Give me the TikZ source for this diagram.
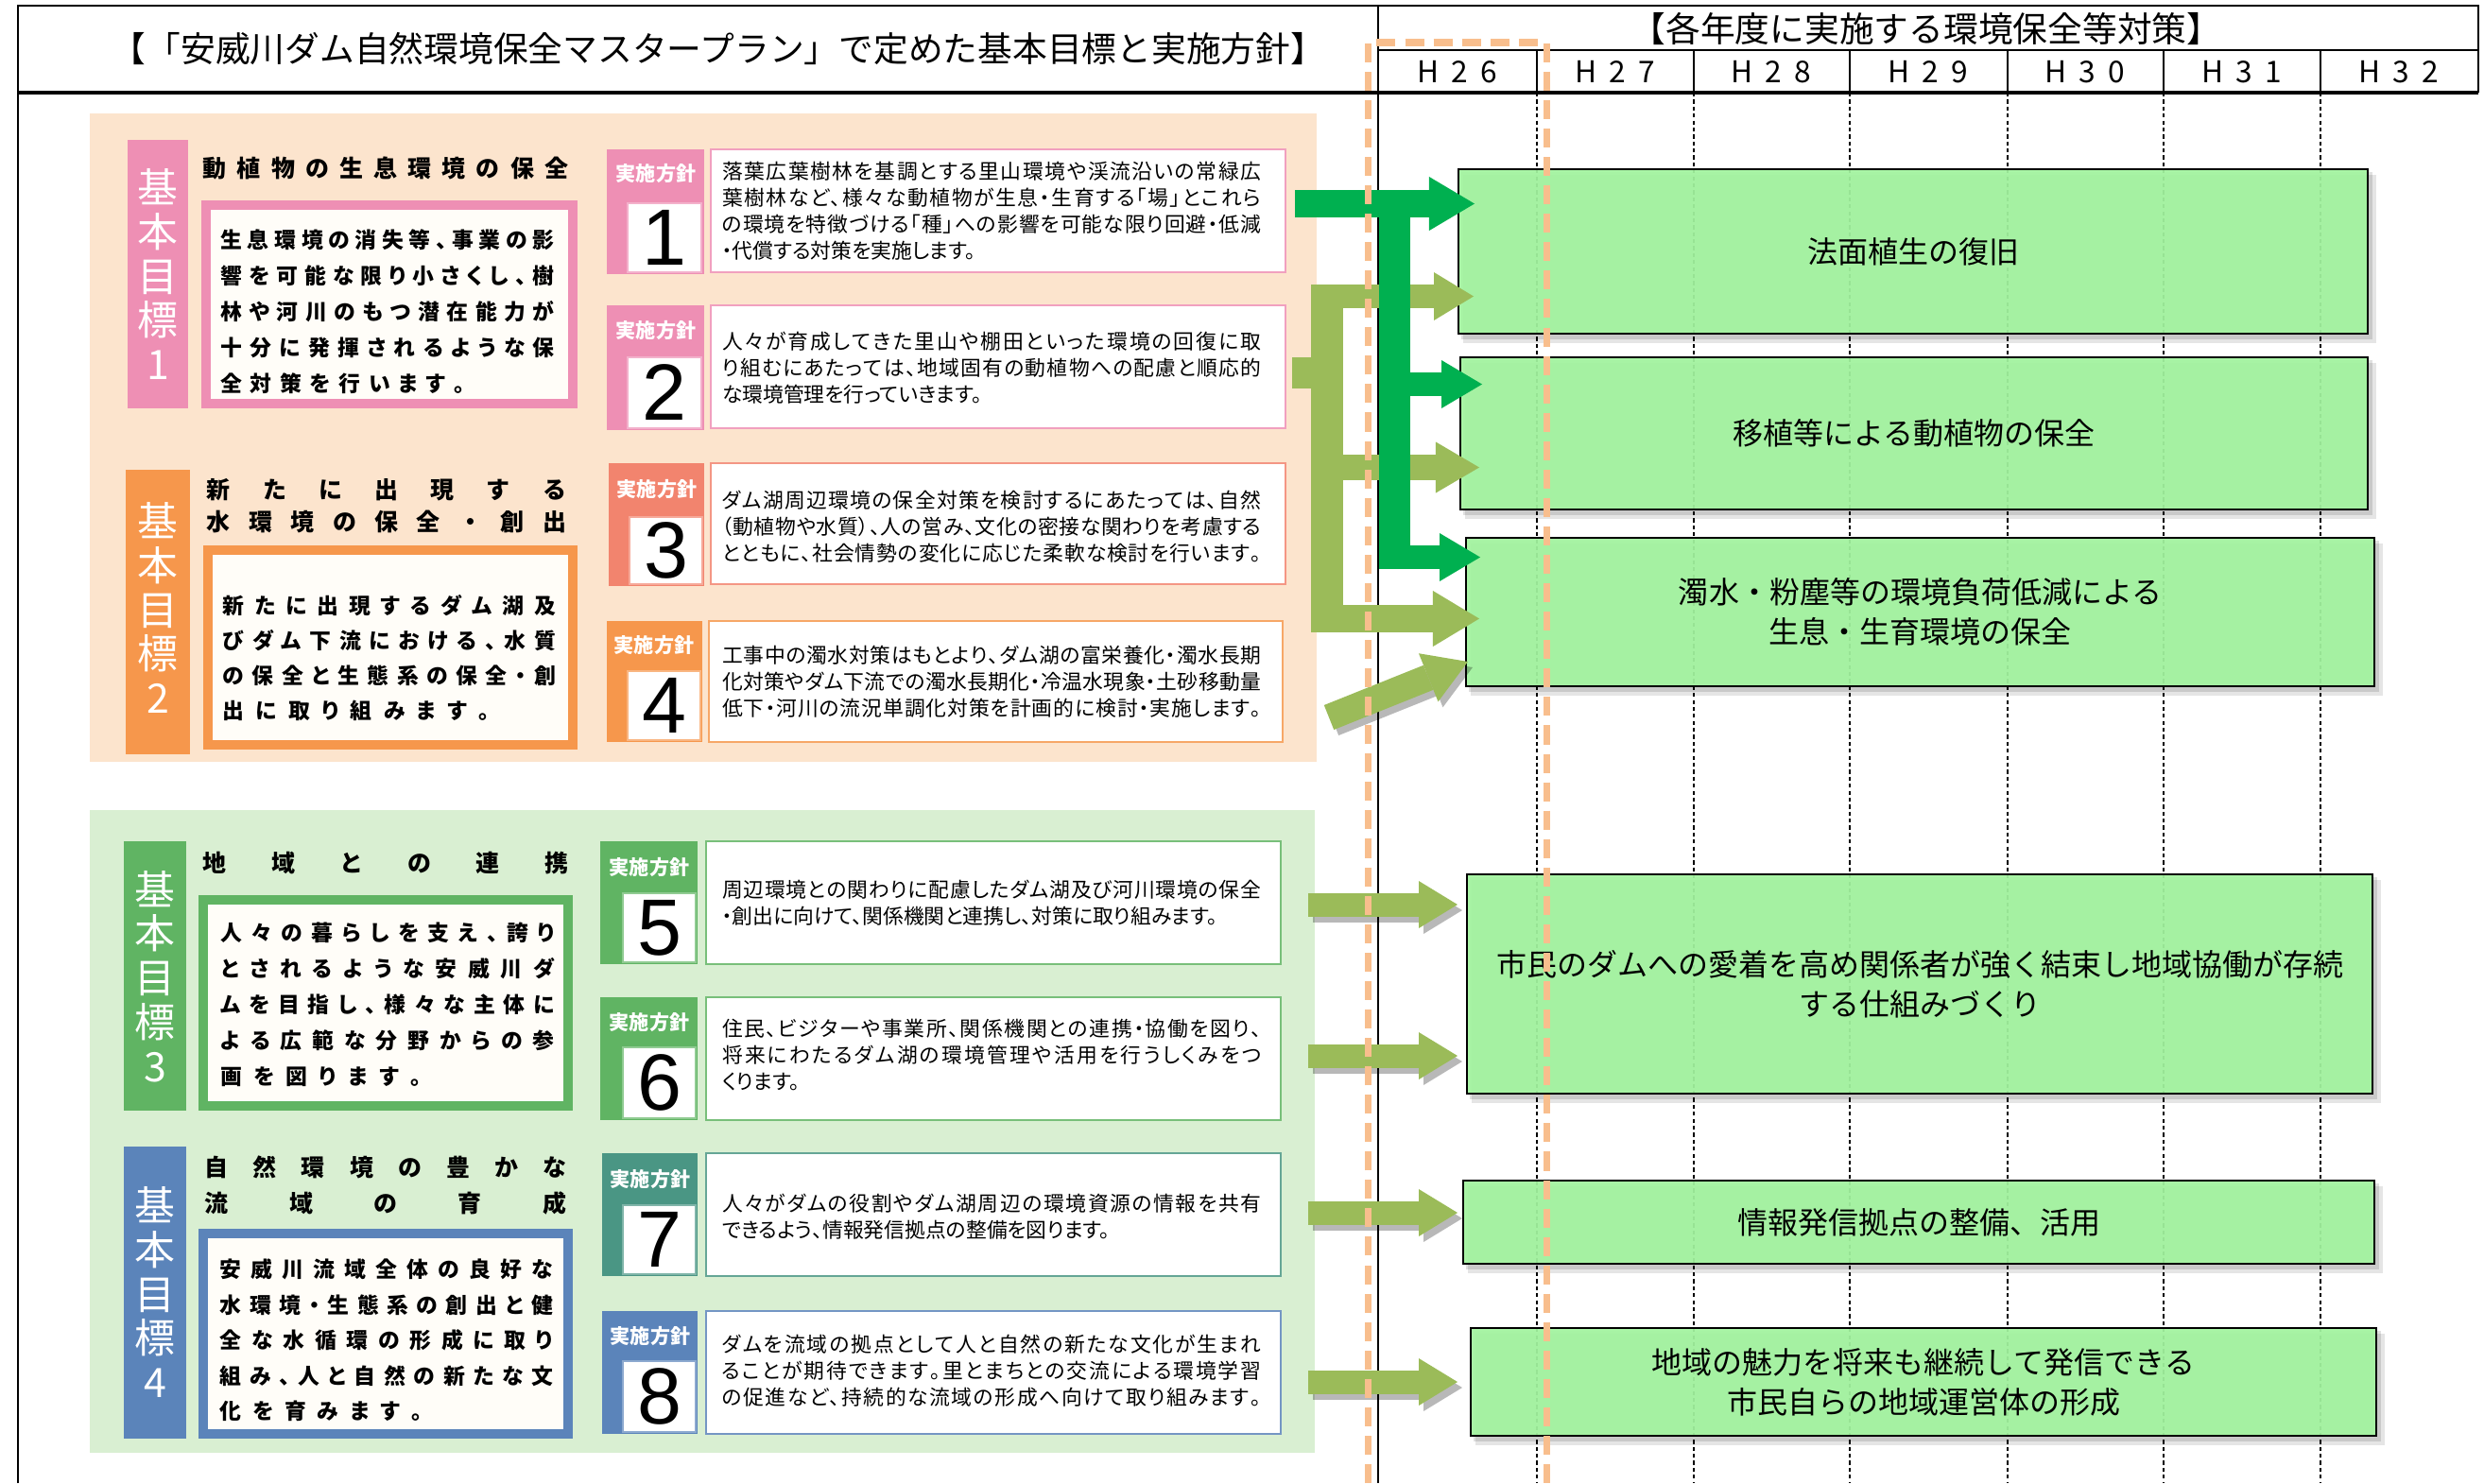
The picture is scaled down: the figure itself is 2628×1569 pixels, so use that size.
\documentclass[tikz,border=0pt]{standalone}
\usepackage{fontspec}
\setmainfont{Noto Sans CJK JP}
\newfontfamily\jpp{Noto Sans CJK JP}[RawFeature=+palt]
\newfontfamily\numf{Liberation Sans}
\usetikzlibrary{arrows.meta,fit}
\definecolor{peach}{HTML}{FCE4CD}
\definecolor{lgrn}{HTML}{D9EFD2}
\definecolor{cpink}{HTML}{EE8FB4}
\definecolor{corange}{HTML}{F6974C}
\definecolor{csalmon}{HTML}{F2846E}
\definecolor{cgreen}{HTML}{60B463}
\definecolor{cblue}{HTML}{5B84BA}
\definecolor{cteal}{HTML}{4A9684}
\definecolor{cream}{HTML}{FFFDF8}
\definecolor{boxg}{HTML}{A3F5A0}
\definecolor{dgreen}{HTML}{00B050}
\definecolor{olv}{HTML}{9BBB59}
\definecolor{odash}{HTML}{F8BE8D}
% spread characters across a box
\newcommand\spr[1]{\sprA#1\relax}
\def\sprA#1{\ifx#1\relax\else#1\expandafter\sprB\fi}
\def\sprB#1{\ifx#1\relax\else\hfill#1\expandafter\sprB\fi}
\newcommand\jl[2]{\hbox to #1{\spr{#2}}}
\newcommand\ph{\phantom{国}}
\newcommand\pl[1]{\jl{5.70cm}{#1}}
\newdimen\chgap
\newcommand\spc[2]{\chgap=#1\relax\spcA#2\relax}
\def\spcA#1{\ifx#1\relax\else#1\expandafter\spcB\fi}
\def\spcB#1{\ifx#1\relax\else\hskip\chgap#1\expandafter\spcB\fi}
\tikzset{
  vlab/.style={text=white, align=center, font=\fontsize{12.2}{13.3}\selectfont},
  gtitle/.style={align=left, font=\bfseries\fontsize{7.1}{9.6}\selectfont},
  gbody/.style={align=left, font=\jpp\bfseries\fontsize{6.5}{10.8}\selectfont},
  lbl/.style={text=white, font=\bfseries\fontsize{6}{6}\selectfont},
  numbox/.style={draw=#1!70, line width=0.5pt, fill=white},
  digit/.style={font=\numf\fontsize{24}{24}\selectfont},
  tbox/.style={draw=#1!85, line width=0.8pt, fill=white},
  ptext/.style={align=left, anchor=west, font=\jpp\fontsize{6.2}{7.97}\selectfont},
  gbox/.style={draw=black, line width=0.6pt, fill=boxg, fill opacity=0.93},
  gtext/.style={align=center, font=\fontsize{9.1}{11.95}\selectfont},
  hl/.style={font=\fontsize{9}{9}\selectfont},
  htitle/.style={font=\fontsize{10.45}{12}\selectfont},
  ba/.style args={#1/#2/#3}{line width=#1, -{Triangle[width=#2,length=#3,line width=0pt]}},
  shaft/.style={line width=#1},
  frame/.style={line width=0.7pt},
  coldash/.style={line width=0.45pt, dash pattern=on 1.2pt off 0.9pt},
  odashed/.style={draw=odash, line width=2pt, dash pattern=on 5.7pt off 2.85pt},
  arrshadow/.style={black, opacity=0.28, transform canvas={shift={(0.05cm,-0.06cm)}}}
}
\begin{document}
\begin{tikzpicture}[x=0.01cm,y=-0.01cm, every node/.style={inner sep=0pt,outer sep=0pt}]
\useasboundingbox (0,0) rectangle (2628,1569);
\fill[white] (0,0) rectangle (2628,1569);

% ---------- left panels ----------
\fill[peach] (95,120) rectangle (1393,806);
\fill[lgrn] (95,857) rectangle (1391,1537);

% goal bars
\fill[cpink] (135,148) rectangle (199,432);
\fill[corange] (133,497) rectangle (201,798);
\fill[cgreen] (131,890) rectangle (197,1175);
\fill[cblue] (131,1213) rectangle (197,1522);
\node[vlab] (g1v) at (167,290) {基\\本\\目\\標\\1};
\node[vlab] (g2v) at (167,643) {基\\本\\目\\標\\2};
\node[vlab] (g3v) at (164,1033) {基\\本\\目\\標\\3};
\node[vlab] (g4v) at (164,1367) {基\\本\\目\\標\\4};

% goal titles
\node[gtitle] (g1t) at (408,178) {\jl{3.86cm}{動植物の生息環境の保全}};
\node[gtitle] (g2t) at (409,535) {\jl{3.80cm}{新たに出現する}\\\jl{3.80cm}{水環境の保全・創出}};
\node[gtitle] (g3t) at (408,913) {\jl{3.86cm}{地域との連携}};
\node[gtitle, font=\bfseries\fontsize{7.1}{10.8}\selectfont] (g4t) at (408,1254) {\jl{3.82cm}{自然環境の豊かな}\\\jl{3.82cm}{流域の育成}};

% goal boxes
\fill[cpink] (213,212) rectangle (611,432); \fill[cream] (223,222) rectangle (601,422);
\fill[corange] (215,577) rectangle (611,793); \fill[cream] (225,587) rectangle (601,783);
\fill[cgreen] (210,947) rectangle (606,1175); \fill[cream] (220,957) rectangle (596,1165);
\fill[cblue] (210,1300) rectangle (606,1522); \fill[cream] (220,1310) rectangle (596,1512);

\node[gbody] (g1b) at (410,330) {\jl{3.53cm}{生息環境の消失等、事業の影}\\\jl{3.53cm}{響を可能な限り小さくし、樹}\\\jl{3.53cm}{林や河川のもつ潜在能力が}\\\jl{3.53cm}{十分に発揮されるような保}\\\jl{3.53cm}{全対策を行います。\ph\ph\ph}};
\node[gbody, font=\jpp\bfseries\fontsize{6.5}{10.5}\selectfont] (g2b) at (412,696) {\jl{3.52cm}{新たに出現するダム湖及}\\\jl{3.52cm}{びダム下流における、水質}\\\jl{3.52cm}{の保全と生態系の保全・創}\\\jl{3.52cm}{出に取り組みます。\ph\ph}};
\node[gbody] (g3b) at (410,1063) {\jl{3.53cm}{人々の暮らしを支え、誇り}\\\jl{3.53cm}{とされるような安威川ダ}\\\jl{3.53cm}{ムを目指し、様々な主体に}\\\jl{3.53cm}{よる広範な分野からの参}\\\jl{3.53cm}{画を図ります。\ph\ph\ph\ph}};
\node[gbody, font=\jpp\bfseries\fontsize{6.5}{10.67}\selectfont] (g4b) at (409,1418) {\jl{3.52cm}{安威川流域全体の良好な}\\\jl{3.52cm}{水環境・生態系の創出と健}\\\jl{3.52cm}{全な水循環の形成に取り}\\\jl{3.52cm}{組み、人と自然の新たな文}\\\jl{3.52cm}{化を育みます。\ph\ph\ph\ph}};

% policy tabs
\fill[cpink] (642,158) rectangle (745,290);
\fill[cpink] (642,323) rectangle (745,455);
\fill[csalmon] (644,490) rectangle (745,620);
\fill[corange] (642,657) rectangle (743,785);
\fill[cgreen] (635,890) rectangle (738,1020);
\fill[cgreen] (635,1055) rectangle (738,1185);
\fill[cteal] (637,1220) rectangle (738,1350);
\fill[cblue] (637,1387) rectangle (738,1517);

\node[numbox=cpink, fit={(664,215)(742,288)}] (n1) {};
\node[numbox=cpink, fit={(664,378)(742,453)}] (n2) {};
\node[numbox=csalmon, fit={(666,547)(743,618)}] (n3) {};
\node[numbox=corange, fit={(664,710)(741,783)}] (n4) {};
\node[numbox=cgreen, fit={(659,945)(736,1018)}] (n5) {};
\node[numbox=cgreen, fit={(659,1108)(736,1183)}] (n6) {};
\node[numbox=cteal, fit={(659,1275)(736,1348)}] (n7) {};
\node[numbox=cblue, fit={(659,1440)(736,1515)}] (n8) {};
\node[digit] (d1) at (n1) {1};
\node[digit] (d2) at (n2) {2};
\node[digit] (d3) at (n3) {3};
\node[digit] (d4) at (n4) {4};
\node[digit] (d5) at (n5) {5};
\node[digit] (d6) at (n6) {6};
\node[digit] (d7) at (n7) {7};
\node[digit] (d8) at (n8) {8};

\node[lbl] (l1) at (694,184) {実施方針};
\node[lbl] (l2) at (694,350) {実施方針};
\node[lbl] (l3) at (695,517) {実施方針};
\node[lbl] (l4) at (692,682) {実施方針};
\node[lbl] (l5) at (687,917) {実施方針};
\node[lbl] (l6) at (687,1081) {実施方針};
\node[lbl] (l7) at (688,1247) {実施方針};
\node[lbl] (l8) at (688,1413) {実施方針};

% policy text boxes
\node[tbox=cpink, fit={(752,158)(1360,288)}] (p1) {};
\node[tbox=cpink, fit={(752,323)(1360,453)}] (p2) {};
\node[tbox=csalmon, fit={(752,490)(1360,618)}] (p3) {};
\node[tbox=corange, fit={(750,657)(1357,785)}] (p4) {};
\node[tbox=cgreen, fit={(747,890)(1355,1020)}] (p5) {};
\node[tbox=cgreen, fit={(747,1055)(1355,1185)}] (p6) {};
\node[tbox=cteal, fit={(747,1220)(1355,1350)}] (p7) {};
\node[tbox=cblue, fit={(747,1387)(1355,1517)}] (p8) {};

\node[ptext] (p1t) at (764,223) {\pl{落葉広葉樹林を基調とする里山環境や渓流沿いの常緑広}\\\pl{葉樹林など、様々な動植物が生息・生育する「場」とこれら}\\\pl{の環境を特徴づける「種」への影響を可能な限り回避・低減}\\・代償する対策を実施します。};
\node[ptext] (p2t) at (764,389) {\pl{人々が育成してきた里山や棚田といった環境の回復に取}\\\pl{り組むにあたっては、地域固有の動植物への配慮と順応的}\\な環境管理を行っていきます。};
\node[ptext] (p3t) at (764,557) {\pl{ダム湖周辺環境の保全対策を検討するにあたっては、自然}\\\pl{（動植物や水質）、人の営み、文化の密接な関わりを考慮する}\\\pl{とともに、社会情勢の変化に応じた柔軟な検討を行います。}};
\node[ptext] (p4t) at (764,721) {\pl{工事中の濁水対策はもとより、ダム湖の富栄養化・濁水長期}\\\pl{化対策やダム下流での濁水長期化・冷温水現象・土砂移動量}\\\pl{低下・河川の流況単調化対策を計画的に検討・実施します。}};
\node[ptext] (p5t) at (764,955) {\pl{周辺環境との関わりに配慮したダム湖及び河川環境の保全}\\・創出に向けて、関係機関と連携し、対策に取り組みます。};
\node[ptext] (p6t) at (764,1116) {\pl{住民、ビジターや事業所、関係機関との連携・協働を図り、}\\\pl{将来にわたるダム湖の環境管理や活用を行うしくみをつ}\\くります。};
\node[ptext] (p7t) at (764,1287) {\pl{人々がダムの役割やダム湖周辺の環境資源の情報を共有}\\できるよう、情報発信拠点の整備を図ります。};
\node[ptext] (p8t) at (764,1450) {\pl{ダムを流域の拠点として人と自然の新たな文化が生まれ}\\\pl{ることが期待できます。里とまちとの交流による環境学習}\\\pl{の促進など、持続的な流域の形成へ向けて取り組みます。}};

% ---------- frame and header ----------
\foreach \x in {1626,1792,1957,2124,2289,2455} {
  \draw[coldash] (\x,98) -- (\x,1569);
  \draw[frame] (\x,53) -- (\x,98);
}
\draw[frame] (19,1569) -- (19,6) -- (2622,6) -- (2622,98);
\draw[frame] (1458,53) -- (2622,53);
\draw[line width=1.1pt] (19,98) -- (2622,98);
\draw[frame] (1458,6) -- (1458,1569);

\node[htitle] (ttl) at (760,52) {【「安威川ダム自然環境保全マスタープラン」で定めた基本目標と実施方針】};
\node[htitle] (ttr) at (2038,30) {【各年度に実施する環境保全等対策】};
\node[hl] (h26) at (1542,76) {\spc{3.7pt}{H26}};
\node[hl] (h27) at (1709,76) {\spc{3.7pt}{H27}};
\node[hl] (h28) at (1874,76) {\spc{3.7pt}{H28}};
\node[hl] (h29) at (2040,76) {\spc{3.7pt}{H29}};
\node[hl] (h30) at (2206,76) {\spc{3.7pt}{H30}};
\node[hl] (h31) at (2372,76) {\spc{3.7pt}{H31}};
\node[hl] (h32) at (2538,76) {\spc{3.7pt}{H32}};

% ---------- measure boxes ----------
\foreach \a/\b/\c/\d in {1543/179/2505/353, 1545/378/2505/539, 1551/569/2512/726, 1552/925/2510/1157, 1548/1249/2512/1337, 1556/1405/2514/1519} {
  \fill[black, opacity=0.10] (\a+5,\b+6) rectangle (\c+9,\d+10);
  \fill[black, opacity=0.12] (\a+3,\b+3) rectangle (\c+5,\d+6);
}
\node[gbox, fit={(1543,179)(2505,353)}] (b1) {};
\node[gbox, fit={(1545,378)(2505,539)}] (b2) {};
\node[gbox, fit={(1551,569)(2512,726)}] (b3) {};
\node[gbox, fit={(1552,925)(2510,1157)}] (b4) {};
\node[gbox, fit={(1548,1249)(2512,1337)}] (b5) {};
\node[gbox, fit={(1556,1405)(2514,1519)}] (b6) {};
\node[gtext] (b1t) at (b1) {法面植生の復旧};
\node[gtext] (b2t) at (b2) {移植等による動植物の保全};
\node[gtext] (b3t) at (b3) {濁水・粉塵等の環境負荷低減による\\生息・生育環境の保全};
\node[gtext] (b4t) at (b4) {市民のダムへの愛着を高め関係者が強く結束し地域協働が存続\\する仕組みづくり};
\node[gtext] (b5t) at (b5) {情報発信拠点の整備、活用};
\node[gtext] (b6t) at (b6) {地域の魅力を将来も継続して発信できる\\市民自らの地域運営体の形成};

% ---------- connectors ----------
\coordinate (oV0) at (1404,301); \coordinate (oV1) at (1404,669);
\coordinate (oS0) at (1367,394.5); \coordinate (oS1) at (1404,394.5);
\coordinate (oA0) at (1387,313.5); \coordinate (oA1) at (1559,313.5);
\coordinate (oB0) at (1404,494.5); \coordinate (oB1) at (1565,494.5);
\coordinate (oC0) at (1387,654.5); \coordinate (oC1) at (1565,654.5);
\coordinate (oD0) at (1406,759); \coordinate (oD1) at (1553,700);
\coordinate (oE0) at (1384,957); \coordinate (oE1) at (1542,957);
\coordinate (oF0) at (1384,1117); \coordinate (oF1) at (1542,1117);
\coordinate (oG0) at (1384,1283); \coordinate (oG1) at (1542,1283);
\coordinate (oH0) at (1384,1462); \coordinate (oH1) at (1542,1462);
\coordinate (dA0) at (1370,215.5); \coordinate (dA1) at (1560,215.5);
\coordinate (dV0) at (1475.5,201); \coordinate (dV1) at (1475.5,602);
\coordinate (dB0) at (1475.5,406.5); \coordinate (dB1) at (1568,406.5);
\coordinate (dC0) at (1475.5,589.5); \coordinate (dC1) at (1566,589.5);

% olive bracket from policy 2
\draw[olv, shaft=0.34cm] (oV0) -- (oV1);
\draw[olv, shaft=0.33cm] (oS0) -- (oS1);
\draw[olv, ba=0.25cm/0.51cm/0.42cm] (oA0) -- (oA1);
\draw[olv, ba=0.27cm/0.54cm/0.46cm] (oB0) -- (oB1);
\draw[olv, ba=0.29cm/0.59cm/0.49cm] (oC0) -- (oC1);
% diagonal from policy 4
\draw[arrshadow, ba=0.28cm/0.55cm/0.45cm] (oD0) -- (oD1);
\draw[olv, ba=0.28cm/0.55cm/0.45cm] (oD0) -- (oD1);
% lower olive arrows
\foreach \s in {E,F,G,H} {
  \draw[arrshadow, ba=0.25cm/0.50cm/0.41cm] (o\s0) -- (o\s1);
  \draw[olv, ba=0.25cm/0.50cm/0.41cm] (o\s0) -- (o\s1);
}
% dark green from policy 1
\draw[dgreen, ba=0.29cm/0.57cm/0.48cm] (dA0) -- (dA1);
\draw[dgreen, shaft=0.33cm] (dV0) -- (dV1);
\draw[dgreen, ba=0.25cm/0.51cm/0.43cm] (dB0) -- (dB1);
\draw[dgreen, ba=0.25cm/0.51cm/0.43cm] (dC0) -- (dC1);

% ---------- orange dashed frame ----------
\draw[odashed] (1447,1569) -- (1447,45) -- (1636,45) -- (1636,1569);
\end{tikzpicture}
\end{document}
